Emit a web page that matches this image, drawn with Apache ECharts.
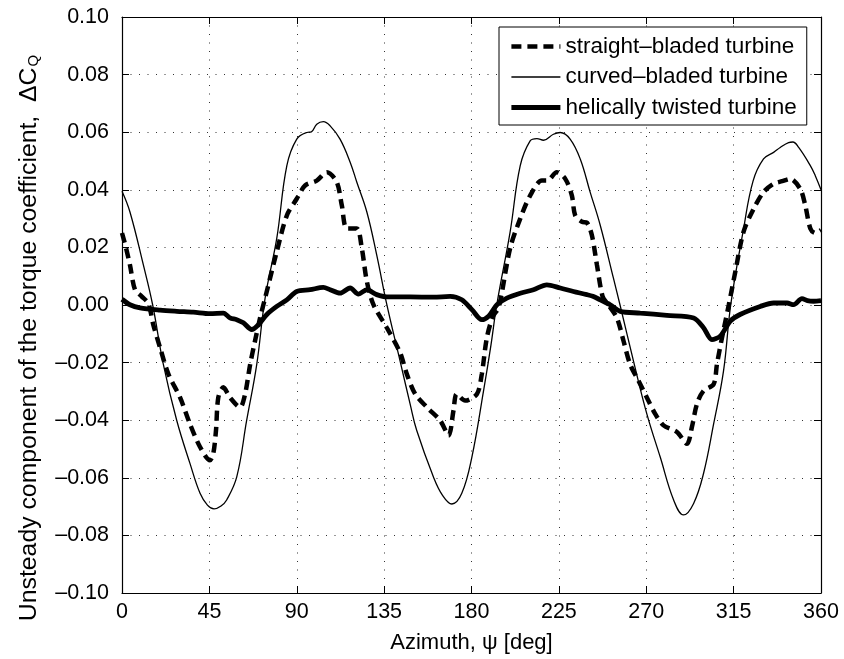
<!DOCTYPE html>
<html>
<head>
<meta charset="utf-8">
<script src="https://cdn.jsdelivr.net/npm/echarts@6/dist/echarts.min.js"></script>
<style>html,body{margin:0;padding:0;background:#fff}#c{width:844px;height:659px}</style>
</head>
<body>
<div id="c"></div>
<script>
// ---- data (azimuth in degrees, unsteady torque coefficient) ----
const seriesNames = ['straight\u2013bladed turbine', 'curved\u2013bladed turbine', 'helically twisted turbine'];

const straightDeg = [0,2,4.1,6.7,10.1,13.6,16.1,19.6,23.9,29.9,35,40.2,45.3,47,48.4,49.6,52.2,55.6,60.8,63.4,66,68.5,71.1,73.7,79.7,84.9,90,94.3,100.3,105.5,110.6,113.2,115.8,120.9,123.5,126.1,129.5,136.4,143.2,146.7,151,157,163.9,168.2,170.7,172.4,176.7,182.8,185.3,187.9,191,193.5,195,199.9,205.1,210.2,216.2,219,223.9,228.3,231.7,233.4,236.9,239.4,242,244.6,247.5,250,254.9,258.3,261.7,266,270.3,274.6,278.9,285.8,291,293.5,296.1,299.5,304.7,306.4,309,312.5,316,320.1,325.3,330.4,335.6,340,344.1,349.3,351.9,354.5,357,360];
const straightVal = [0.025,0.020,0.0139,0.0053,0.0030,0.0005,-0.0068,-0.0148,-0.0240,-0.0321,-0.0413,-0.0493,-0.0539,-0.0516,-0.0436,-0.0321,-0.0286,-0.0321,-0.0355,-0.0309,-0.0206,-0.0125,-0.0045,0.0024,0.0185,0.0311,0.0369,0.0415,0.0432,0.0461,0.0427,0.0346,0.0266,0.0266,0.0197,0.0082,0.0001,-0.0079,-0.0165,-0.0240,-0.0309,-0.0355,-0.0401,-0.0453,-0.0367,-0.0309,-0.0332,-0.0309,-0.0240,-0.0114,-0.0040,-0.0015,0.0020,0.0197,0.0300,0.0380,0.0432,0.0432,0.0461,0.0438,0.0380,0.0311,0.0289,0.0286,0.0242,0.0139,0.0030,0.0005,-0.0045,-0.0125,-0.0206,-0.0263,-0.0321,-0.0378,-0.0418,-0.0441,-0.0482,-0.0424,-0.0344,-0.0298,-0.0275,-0.0206,-0.0114,0.0000,0.0120,0.0254,0.0334,0.0392,0.0421,0.0430,0.0438,0.0403,0.0346,0.0266,0.0250,0.0260];

const curvedDeg = [0,4.1,11,15.8,21.3,28.2,35,40.2,44,47.4,51,53.9,59.1,64.2,69.4,73.7,79.7,84.9,90,95.2,97.5,100.3,103.7,107.2,112.3,117.5,120.9,126.1,131.2,136.4,143.2,148.4,151.8,160.4,165,169.9,175,180.2,186.2,190,193,199.9,205.1,210.2,213.7,217.1,222.2,225.7,230.8,236,241.1,246.3,253.1,256.5,263.4,270.3,277.2,284.1,289.2,294.4,299.5,304.7,309.8,313.5,320,325,330.4,335.6,339,343.3,345.5,348.5,354.5,357,360];
const curvedVal = [0.0395,0.0323,0.0139,0.0000,-0.0206,-0.0401,-0.0550,-0.0654,-0.0695,-0.0708,-0.0698,-0.0677,-0.0597,-0.0401,-0.0206,0.0024,0.0231,0.0484,0.0576,0.0599,0.0601,0.0628,0.0637,0.0622,0.0576,0.0496,0.0427,0.0323,0.0173,0.0001,-0.0194,-0.0344,-0.0436,-0.0597,-0.0660,-0.0691,-0.0654,-0.0528,-0.0298,-0.0140,0.0000,0.0254,0.0484,0.0570,0.0578,0.0572,0.0593,0.0599,0.0576,0.0507,0.0392,0.0277,0.0093,0.0000,-0.0194,-0.0378,-0.0528,-0.0677,-0.0729,-0.0689,-0.0585,-0.0413,-0.0229,0.0000,0.0260,0.0430,0.0507,0.0530,0.0547,0.0564,0.0566,0.0547,0.0484,0.0450,0.0400];

const helicalDeg = [0,4.1,9.3,19.6,28.2,36.7,45.3,52.2,55.6,59.1,62.5,66.8,70.3,74.6,79.7,84.9,90,96.9,103.7,107.2,112.3,117.5,121.8,126.1,131.2,136.4,148.4,160.4,169,175,180.2,185.3,188.8,193.1,198.2,205.1,211.9,218.8,225.7,232.5,239.4,242.5,246.3,251.4,256.6,266.9,280.6,294.4,299.5,303.8,308.1,313.3,318.3,328.7,335.6,342.5,345.9,350.2,353,356.2,360];
const helicalVal = [0.0020,0.0001,-0.0010,-0.0018,-0.0022,-0.0025,-0.0030,-0.0028,-0.0045,-0.0051,-0.0062,-0.0085,-0.0068,-0.0033,-0.0005,0.0018,0.0047,0.0053,0.0061,0.0053,0.0041,0.0059,0.0038,0.0053,0.0036,0.0028,0.0028,0.0027,0.0030,0.0018,-0.0016,-0.0051,-0.0039,0.0001,0.0024,0.0041,0.0053,0.0070,0.0059,0.0047,0.0036,0.0030,0.0018,0.0001,-0.0022,-0.0028,-0.0036,-0.0045,-0.0079,-0.0120,-0.0108,-0.0056,-0.0033,-0.0005,0.0007,0.0007,0.0001,0.0022,0.0015,0.0013,0.0015];

const xTicks = [0,45,90,135,180,225,270,315,360];
const yTicks = [-0.10,-0.08,-0.06,-0.04,-0.02,0.00,0.02,0.04,0.06,0.08,0.10];
const yTickLabels = ['\u20130.10','\u20130.08','\u20130.06','\u20130.04','\u20130.02','0.00','0.02','0.04','0.06','0.08','0.10'];
const xTitle = 'Azimuth, \u03c8 [deg]';
const yTitleMain = 'Unsteady component of the torque coefficient,  \u0394C';
const yTitleSub = 'Q';

const zip = (xs, ys) => xs.map((x, i) => [x, ys[i]]);
const FONT = "'Liberation Sans', Arial, Helvetica, sans-serif";

const lineStyles = [
  {color: '#000', width: 4.5, type: [10, 6]},
  {color: '#000', width: 1.3, type: 'solid'},
  {color: '#000', width: 4.8, type: 'solid'}
];

const chart = echarts.init(document.getElementById('c'), null, {renderer: 'canvas'});

const yLabelFmt = v => {
  const i = yTicks.findIndex(t => Math.abs(t - v) < 1e-9);
  return i >= 0 ? yTickLabels[i] : '';
};

const option = {
  backgroundColor: '#fff',
  animation: false,
  grid: {left: 122, right: 23, top: 17, bottom: 62, containLabel: false},
  legend: {
    left: 499, top: 27, orient: 'vertical', align: 'left',
    backgroundColor: '#fff', borderColor: '#000', borderWidth: 1,
    padding: [8, 10, 6, 10], itemGap: 7.5, itemWidth: 49, itemHeight: 14,
    itemStyle: {opacity: 0, borderWidth: 0},
    textStyle: {fontFamily: FONT, fontSize: 22.5, color: '#000', lineHeight: 22},
    data: seriesNames.map((n, i) => ({
      name: n,
      lineStyle: {color: '#000', width: lineStyles[i].width, type: lineStyles[i].type, opacity: 1},
      itemStyle: {opacity: 0, borderWidth: 0}
    }))
  },
  xAxis: [{
    type: 'value', min: 0, max: 360, interval: 45, position: 'bottom',
    name: xTitle, nameLocation: 'middle', nameGap: 39,
    nameTextStyle: {fontFamily: FONT, fontSize: 22, color: '#000'},
    axisLine: {show: true, onZero: false, lineStyle: {color: '#000', width: 1.2}},
    axisTick: {show: true, inside: true, length: 7, lineStyle: {color: '#000'}},
    axisLabel: {fontFamily: FONT, fontSize: 21.5, color: '#000', margin: 8,
      formatter: v => xTicks.indexOf(v) >= 0 ? String(v) : ''},
    splitLine: {show: true, lineStyle: {color: '#333', width: 1, type: [1, 7.5]}}
  }, {
    type: 'value', min: 0, max: 360, interval: 45, position: 'top',
    axisLine: {show: true, onZero: false, lineStyle: {color: '#000', width: 1.2}},
    axisTick: {show: true, inside: true, length: 7, lineStyle: {color: '#000'}},
    axisLabel: {show: false}, splitLine: {show: false}
  }],
  yAxis: [{
    type: 'value', min: -0.1, max: 0.1, interval: 0.02, position: 'left',
    axisLine: {show: true, onZero: false, lineStyle: {color: '#000', width: 1.2}},
    axisTick: {show: true, inside: true, length: 7, lineStyle: {color: '#000'}},
    axisLabel: {fontFamily: FONT, fontSize: 21.5, color: '#000', margin: 13, formatter: yLabelFmt},
    splitLine: {show: true, lineStyle: {color: '#333', width: 1, type: [1, 7.5]}}
  }, {
    type: 'value', min: -0.1, max: 0.1, interval: 0.02, position: 'right',
    axisLine: {show: true, onZero: false, lineStyle: {color: '#000', width: 1.2}},
    axisTick: {show: true, inside: true, length: 7, lineStyle: {color: '#000'}},
    axisLabel: {show: false}, splitLine: {show: false}
  }],
  series: [
    {name: seriesNames[0], type: 'line', data: zip(straightDeg, straightVal), symbol: 'none',
     smooth: 0.3, z: 3, lineStyle: lineStyles[0], itemStyle: {color: '#000'}},
    {name: seriesNames[1], type: 'line', data: zip(curvedDeg, curvedVal), symbol: 'none',
     smooth: 0.4, z: 2, lineStyle: lineStyles[1], itemStyle: {color: '#000'}},
    {name: seriesNames[2], type: 'line', data: zip(helicalDeg, helicalVal), symbol: 'none',
     smooth: 0.3, z: 4, lineStyle: lineStyles[2], itemStyle: {color: '#000'}}
  ],
  graphic: [{
    type: 'text', x: 29, y: 338, rotation: Math.PI / 2,
    style: {
      text: '{m|' + yTitleMain + '}{q|' + yTitleSub + '}',
      align: 'center', verticalAlign: 'middle', fill: '#000',
      rich: {
        m: {fontFamily: FONT, fontSize: 24.8, lineHeight: 24, verticalAlign: 'top', fill: '#000', color: '#000'},
        q: {fontFamily: FONT, fontSize: 15, lineHeight: 16, padding: [23, 0, 0, 1], verticalAlign: 'bottom', fill: '#000', color: '#000'}
      }
    }
  }]
};
chart.setOption(option);
</script>
</body>
</html>
